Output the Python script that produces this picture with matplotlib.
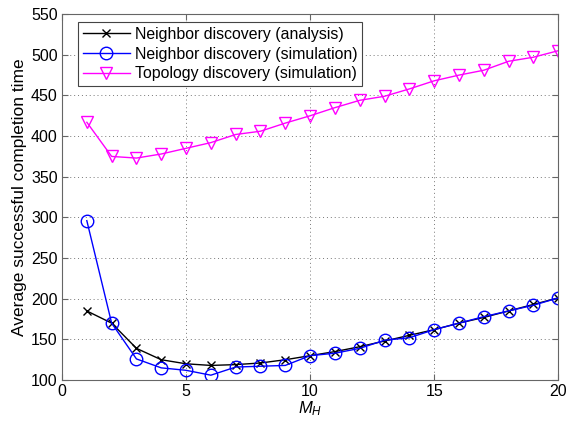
import matplotlib
matplotlib.use('Agg')
import matplotlib.pyplot as plt

plt.rcParams['font.family'] = ['Liberation Sans', 'DejaVu Sans']
plt.rcParams['mathtext.fontset'] = 'custom'
plt.rcParams['mathtext.it'] = 'Liberation Sans:italic'
plt.rcParams['mathtext.rm'] = 'Liberation Sans'

m_h = list(range(1, 21))
nd_analysis = [185, 170, 139, 125, 120, 118, 119, 121, 125, 130,
               135, 141, 148, 155, 162, 170, 177, 185, 193, 201]
nd_simulation = [296, 170, 126, 115, 112, 106, 116, 117, 118, 130,
                 133, 139, 149, 152, 162, 170, 178, 185, 192, 201]
td_simulation = [417, 375, 373, 378, 385, 392, 402, 406, 416, 425,
                 435, 444, 449, 458, 468, 475, 481, 492, 497, 505]

fig = plt.figure(figsize=(5.69, 4.28), dpi=100)
ax = fig.add_axes([0.109, 0.112, 0.872, 0.855])

ax.plot(m_h, nd_analysis, color='black', marker='x', markersize=6,
        linewidth=1, label='Neighbor discovery (analysis)')
ax.plot(m_h, nd_simulation, color='blue', marker='o', markersize=9,
        markerfacecolor='none', linewidth=1, label='Neighbor discovery (simulation)')
ax.plot(m_h, td_simulation, color='magenta', marker='v', markersize=9,
        markerfacecolor='none', linewidth=1, label='Topology discovery (simulation)')

ax.set_xlim(0, 20)
ax.set_ylim(100, 550)
ax.set_xticks(range(0, 21, 5))
ax.set_yticks(range(100, 551, 50))
ax.grid(True, linestyle=(0, (1, 3)), color='#777777', linewidth=0.7)
ax.tick_params(direction='in', top=True, right=True, labelsize=11.5,
               length=4, color='#666666', pad=3)
for s in ax.spines.values():
    s.set_linewidth(0.8)
    s.set_color('#666666')

ax.set_xlabel('$M_H$', fontsize=12, labelpad=0)
ax.set_ylabel('Average successful completion time', fontsize=12.5, labelpad=3)

leg = ax.legend(loc='upper left', fontsize=11.4, fancybox=False, framealpha=1,
                edgecolor='#444444', bbox_to_anchor=(0.032, 0.978),
                borderaxespad=0, handlelength=3.0, labelspacing=0.3,
                borderpad=0.3, handletextpad=0.3)
leg.get_frame().set_linewidth(0.8)

fig.savefig('out.png', dpi=100)
